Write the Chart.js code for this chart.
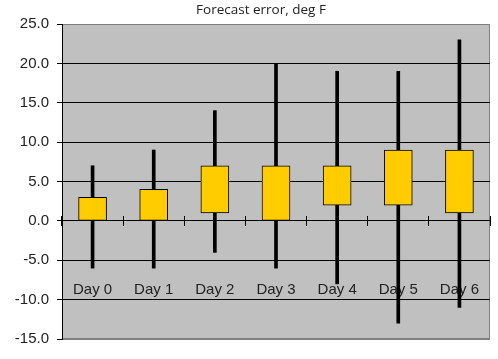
<!DOCTYPE html>
<html>
<head>
<meta charset="utf-8">
<script src="https://cdn.jsdelivr.net/npm/chart.js@4/dist/chart.umd.min.js"></script>
<style>
  html, body { margin: 0; padding: 0; background: #fff; }
  #wrap { width: 498px; height: 359px; }
</style>
</head>
<body>
<div id="wrap"><canvas id="chart"></canvas></div>
<script>
// Forecast error data (deg F)
const days = ['Day 0', 'Day 1', 'Day 2', 'Day 3', 'Day 4', 'Day 5', 'Day 6'];
const whiskerLow  = [-6, -6, -4, -6, -8, -13, -11];
const whiskerHigh = [7, 9, 14, 20, 19, 19, 23];
const boxLow  = [0, 0, 1, 0, 2, 2, 1];
const boxHigh = [3, 4, 7, 7, 7, 9, 9];
const yTicks = [-15, -10, -5, 0, 5, 10, 15, 20, 25];
const chartTitle = 'Forecast error, deg F';

// Gray plot area with a thin gray frame
const plotBackground = {
    id: 'plotBackground',
    beforeDraw(chart) {
        const { ctx, chartArea: a } = chart;
        ctx.save();
        ctx.fillStyle = '#C0C0C0';
        ctx.fillRect(a.left, a.top, a.right - a.left, a.bottom - a.top);
        ctx.strokeStyle = '#808080';
        ctx.lineWidth = 1;
        ctx.strokeRect(a.left + 0.5, a.top + 0.5, a.right - a.left - 1, a.bottom - a.top - 1);
        ctx.restore();
    }
};

// Title sits a little right of the canvas centre, like the original
const topTitle = {
    id: 'topTitle',
    afterDraw(chart) {
        const { ctx, chartArea: a } = chart;
        ctx.save();
        ctx.font = '13.5px "Open Sans"';
        ctx.fillStyle = '#222';
        ctx.textAlign = 'center';
        ctx.textBaseline = 'middle';
        ctx.fillText(chartTitle, a.left + (a.right - a.left) / 2 - 15, 10);
        ctx.restore();
    }
};

const ctx = document.getElementById('chart').getContext('2d');
new Chart(ctx, {
    type: 'bar',
    data: {
        labels: days,
        datasets: [
            {
                label: 'Box',
                data: days.map((d, i) => [boxLow[i], boxHigh[i]]),
                backgroundColor: '#FFCC00',
                borderColor: '#000000',
                borderWidth: 1,
                borderSkipped: false,
                barThickness: 28,
                grouped: false
            },
            {
                label: 'Range',
                data: days.map((d, i) => [whiskerLow[i], whiskerHigh[i]]),
                backgroundColor: '#000000',
                borderWidth: 0,
                barThickness: 3,
                grouped: false
            }
        ]
    },
    options: {
        responsive: true,
        maintainAspectRatio: false,
        animation: false,
        layout: { padding: { left: 0, right: 8, top: 24, bottom: 20 } },
        plugins: {
            legend: { display: false },
            tooltip: { enabled: false },
            title: { display: false }
        },
        scales: {
            // labels axis: sits on the zero line, tick marks hidden, labels pushed down into the plot
            x: {
                position: { y: 0 },
                border: { display: true, color: '#000' },
                grid: {
                    offset: true,
                    drawOnChartArea: false,
                    drawTicks: true,
                    tickLength: 60,
                    tickColor: 'rgba(0,0,0,0)'
                },
                ticks: {
                    color: '#222',
                    padding: 0,
                    font: { family: 'Liberation Sans', size: 15 }
                }
            },
            // tick-mark axis: a hair above zero so the marks cross the zero line
            x2: {
                position: { y: 0.64 },
                border: { display: false },
                grid: {
                    offset: true,
                    drawOnChartArea: false,
                    drawTicks: true,
                    tickLength: 10,
                    tickColor: '#000'
                },
                ticks: { display: false, padding: 0 }
            },
            y: {
                min: -15,
                max: 25,
                afterBuildTicks: (scale) => {
                    scale.ticks = yTicks.map(v => ({ value: v }));
                },
                afterFit: (scale) => { scale.width = 62; },
                border: { display: true, color: '#000', width: 1 },
                grid: {
                    color: (c) => (c.tick && (c.tick.value === 25 || c.tick.value === -15)) ? '#808080' : '#000',
                    tickColor: '#000',
                    tickLength: 5,
                    lineWidth: 1
                },
                ticks: {
                    color: '#222',
                    padding: 8,
                    font: { family: 'Liberation Sans', size: 15 },
                    callback: (v) => Number(v).toFixed(1)
                }
            }
        }
    },
    plugins: [plotBackground, topTitle]
});
</script>
</body>
</html>
